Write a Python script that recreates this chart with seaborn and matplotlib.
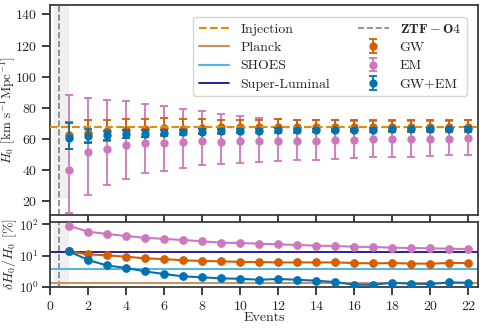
import numpy as np
import matplotlib
matplotlib.use("Agg")
import matplotlib.pyplot as plt
import seaborn as sns

# ---- data ----
events = np.arange(1, 23)

h0_em = [40.0, 51.2, 53.4, 55.7, 57.0, 57.6, 57.8, 58.5, 57.8, 58.3, 58.3,
         58.5, 58.7, 58.7, 59.1, 59.4, 59.6, 59.6, 59.6, 59.8, 60.0, 60.2]
em_lo = [12.1, 24.0, 30.2, 34.1, 37.7, 39.2, 41.4, 42.9, 43.9, 44.2, 44.8,
         45.6, 46.1, 46.3, 46.9, 47.4, 48.0, 48.4, 48.4, 48.7, 49.3, 49.7]
em_hi = [88.0, 86.5, 85.2, 84.0, 82.7, 81.0, 79.2, 77.7, 76.0, 74.7, 73.4,
         72.6, 72.4, 72.0, 72.0, 71.5, 71.5, 71.5, 71.3, 71.3, 71.5, 72.0]

h0_gw = [62.3, 63.8, 64.9, 65.5, 66.6, 66.8, 66.6, 66.8, 67.5, 67.7, 67.6,
         67.6, 67.3, 67.6, 67.6, 67.4, 67.4, 67.6, 67.4, 67.6, 67.6, 67.6]
gw_lo = [53.4, 58.0, 58.9, 60.4, 61.2, 61.8, 62.3, 62.8, 63.3, 63.6, 63.8,
         64.0, 64.0, 64.1, 64.2, 64.2, 64.3, 64.4, 64.4, 64.5, 64.5, 64.5]
gw_hi = [70.9, 71.8, 72.4, 72.6, 73.0, 73.2, 72.6, 72.6, 72.4, 72.4, 72.4,
         72.5, 72.2, 72.2, 72.4, 72.0, 72.0, 72.0, 72.0, 72.0, 72.0, 72.2]

h0_both = [60.8, 61.5, 62.3, 62.9, 63.4, 64.0, 64.3, 64.7, 65.1, 65.3, 65.3,
           65.5, 65.5, 65.6, 65.7, 65.8, 65.9, 66.0, 66.1, 66.2, 66.3, 66.4]
both_lo = [53.4, 57.0, 59.0, 60.4, 61.4, 62.4, 62.9, 63.4, 63.9, 64.1, 64.2,
           64.3, 64.4, 64.6, 64.8, 65.0, 65.1, 65.1, 65.3, 65.4, 65.4, 65.5]
both_hi = [70.0, 66.0, 65.3, 65.4, 65.4, 65.6, 65.7, 66.0, 66.3, 66.5, 66.4,
           66.7, 66.6, 66.6, 66.6, 66.6, 66.7, 66.9, 66.9, 67.0, 67.2, 67.3]

# fractional precision [%]
pct_em = [90, 58, 49, 42, 37, 34, 31.4, 28.5, 25.7, 25.2, 23.9, 22.8, 21.7,
          20.7, 20.2, 19.1, 18.7, 17.8, 17.4, 17.0, 16.5, 16.1]
pct_gw = [13.6, 10.9, 10.1, 9.2, 8.1, 7.7, 7.0, 6.7, 6.5, 6.25, 6.2, 6.0,
          6.0, 6.0, 6.0, 5.75, 5.6, 5.75, 5.5, 5.5, 5.75, 5.75]
pct_both = [13.6, 7.2, 4.8, 4.0, 3.1, 2.55, 2.15, 2.0, 1.85, 1.8, 1.67, 1.77,
            1.67, 1.56, 1.41, 1.16, 1.16, 1.34, 1.25, 1.22, 1.38, 1.34]

h0_injection = 67.8
pct_planck = 1.35
pct_shoes = 3.7
pct_superluminal = 12.9

sns.set_theme(style="ticks")
plt.rcParams["font.family"] = "serif"
plt.rcParams["font.serif"] = ["cmr10"]
plt.rcParams["mathtext.fontset"] = "cm"
plt.rcParams["axes.formatter.use_mathtext"] = True
plt.rcParams["axes.unicode_minus"] = False
plt.rcParams["font.size"] = 10
plt.rcParams["axes.labelsize"] = 10
plt.rcParams["xtick.labelsize"] = 10
plt.rcParams["ytick.labelsize"] = 10
plt.rcParams["legend.fontsize"] = 10

pal = sns.color_palette("colorblind")
c_gw = pal[3]
c_em = pal[4]
c_both = pal[0]
c_inj = pal[1]
c_planck = pal[5]
c_shoes = pal[9]
c_sl = "#00008b"

fig = plt.figure(figsize=(4.84, 3.28), dpi=100)
ax1 = fig.add_axes([0.1033, 0.3445, 0.8843, 0.640])
ax2 = fig.add_axes([0.1033, 0.125, 0.8843, 0.198], sharex=ax1)

# ---- top panel ----
ax1.fill_betweenx([21, 150], 0.2, 1.0, color="0.94", lw=0, zorder=0)
ztf = ax1.axvline(0.45, color="gray", ls="--", lw=1.2, label=r"$\mathbf{ZTF-O4}$")
inj = ax1.axhline(h0_injection, color=c_inj, ls="--", lw=1.5, zorder=4, label="Injection")

def errbar(ax, y, lo, hi, color, label, z):
    y = np.asarray(y)
    yerr = [y - np.asarray(lo), np.asarray(hi) - y]
    return ax.errorbar(events, y, yerr=yerr, fmt="o", color=color, ms=5,
                       capsize=3, elinewidth=1.3, capthick=1.3, label=label, zorder=z)

eb_em = errbar(ax1, h0_em, em_lo, em_hi, c_em, "EM", 2)
eb_gw = errbar(ax1, h0_gw, gw_lo, gw_hi, c_gw, "GW", 3)
eb_both = errbar(ax1, h0_both, both_lo, both_hi, c_both, "GW+EM", 5)

ax1.set_ylim(11, 146)
ax1.set_yticks(np.arange(20, 141, 20))
ax1.set_ylabel(r"$H_0$ [km s$^{-1}$Mpc$^{-1}$]", fontsize=9.5)
ax1.yaxis.set_label_coords(-0.077, 0.5)
ax1.tick_params(labelbottom=False)

# ---- bottom panel ----
sns.lineplot(x=events, y=pct_em, color=c_em, marker="o", ms=5.5, mec=c_em, lw=1.5, ax=ax2, zorder=3)
sns.lineplot(x=events, y=pct_gw, color=c_gw, marker="o", ms=5.5, mec=c_gw, lw=1.5, ax=ax2, zorder=3)
sns.lineplot(x=events, y=pct_both, color=c_both, marker="o", ms=5.5, mec=c_both, lw=1.5, ax=ax2, zorder=3)

ax2.axvspan(0.2, 1.0, color="0.94", lw=0, zorder=0)
ax2.axvline(0.45, color="gray", ls="--", lw=1.2)
pl = ax2.axhline(pct_planck, color=c_planck, lw=1.5, label="Planck")
sh = ax2.axhline(pct_shoes, color=c_shoes, lw=1.5, label="SHOES")
sl = ax2.axhline(pct_superluminal, color=c_sl, lw=1.2, label="Super-Luminal")

ax2.set_yscale("log")
ax2.set_ylim(0.98, 118)
ax2.set_yticks([1, 10, 100])
ax2.minorticks_off()
ax2.tick_params(axis="y", labelsize=9.5, pad=2)
ax2.set_xlim(0, 22.5)
ax2.set_xticks(np.arange(0, 23, 2))
ax2.set_xlabel("Events", labelpad=-1)
ax2.set_ylabel(r"$\delta H_0/H_0$ [%]")
ax2.yaxis.set_label_coords(-0.072, 0.5)

for ax in (ax1, ax2):
    for s in ax.spines.values():
        s.set_color("0.2")

handles = [inj, pl, sh, sl, ztf, eb_gw, eb_em, eb_both]
labels = [h.get_label() for h in handles]
ax1.legend(handles, labels, ncol=2, loc="upper right", bbox_to_anchor=(0.99, 0.975),
           handlelength=2.2, columnspacing=2.0, labelspacing=0.4, borderpad=0.4,
           handletextpad=0.8)

fig.savefig("out.png", dpi=100)
